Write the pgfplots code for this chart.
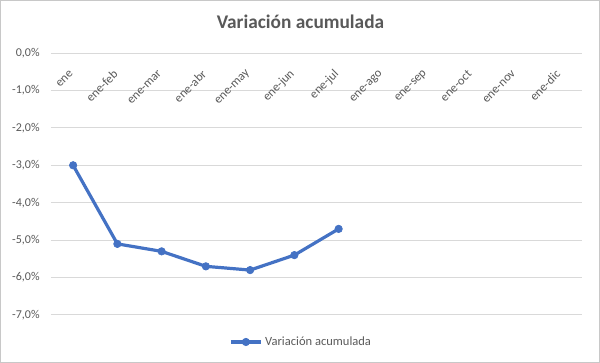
\documentclass[border=0pt]{standalone}
\usepackage{pgfplots}
\pgfplotsset{compat=1.18}
\usepackage{fontspec}
\setmainfont{Carlito}
\definecolor{txt}{RGB}{89,89,89}
\definecolor{grd}{RGB}{217,217,217}
\definecolor{ser}{RGB}{68,114,196}
\definecolor{frm}{RGB}{200,200,200}
\begin{document}
\begin{tikzpicture}
\useasboundingbox (0,0) rectangle (450pt,272.25pt);
\draw[frm, line width=0.75pt] (0.5pt,0.5pt) rectangle (449.5pt,271.75pt);
\begin{axis}[
  at={(38.25pt,36pt)}, anchor=south west,
  scale only axis, width=398.25pt, height=196.5pt,
  xmin=-0.5, xmax=11.5, ymin=-7, ymax=0,
  axis line style={draw=none}, tick style={draw=none},
  ymajorgrids, grid style={grd, line width=0.75pt},
  xtick={0,...,11},
  xticklabels={ene,ene-feb,ene-mar,ene-abr,ene-may,ene-jun,ene-jul,ene-ago,ene-sep,ene-oct,ene-nov,ene-dic},
  xticklabel pos=upper,
  xticklabel style={yshift=-13.5pt, xshift=-0.5pt, rotate=45, anchor=east, inner sep=1pt, font=\fontsize{9.3}{10}\selectfont, text=txt},
  ytick={-7,-6,-5,-4,-3,-2,-1,0},
  yticklabels={{-7,0\%},{-6,0\%},{-5,0\%},{-4,0\%},{-3,0\%},{-2,0\%},{-1,0\%},{0,0\%}},
  yticklabel style={font=\fontsize{9}{10}\selectfont, text=txt, xshift=-5pt},
  title={\textbf{Variación acumulada}},
  title style={at={(0.5,1)}, anchor=center, yshift=17.5pt, xshift=-12pt, font=\fontsize{14.5}{16}\selectfont, text=txt},
  legend style={at={(0.5,0)}, anchor=center, yshift=-20.25pt, xshift=-11.25pt, draw=none, fill=none, font=\fontsize{9.4}{10}\selectfont, text=txt, inner sep=1pt},
  legend cell align=left,
  legend image code/.code={\draw[mark repeat=2,mark phase=2,#1] plot coordinates {(0pt,0pt) (11.25pt,0pt) (22.5pt,0pt)};},
]
\addplot[ser, line width=2.4pt, mark=*, mark size=2.8pt, mark options={fill=ser, draw=ser, line width=0.5pt}] coordinates {
 (0,-3.0) (1,-5.1) (2,-5.3) (3,-5.7) (4,-5.8) (5,-5.4) (6,-4.7)
};
\addlegendentry{Variación acumulada}
\end{axis}
\end{tikzpicture}
\end{document}
